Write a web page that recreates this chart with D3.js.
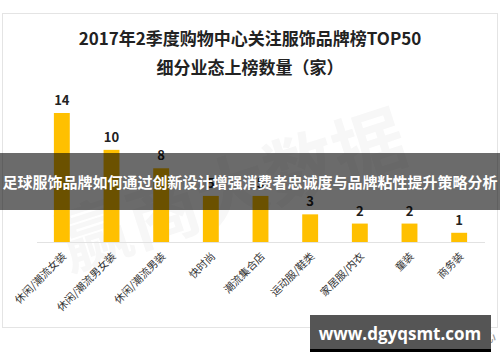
<!DOCTYPE html>
<html>
<head>
<meta charset="utf-8">
<script src="https://cdn.jsdelivr.net/npm/d3@7"></script>
<style>
body { margin:0; background:#fff; }
svg { display:block; font-family:"Noto Sans CJK SC","Noto Sans",sans-serif; }
</style>
</head>
<body>
<script>
var width = 500, height = 362

var categories = ["休闲/潮流女装","休闲/潮流男女装","休闲/潮流男装","快时尚","潮流集合店","运动服/鞋类","家居服/内衣","童装","商务装"]
var counts = [14, 10, 8, 5, 5, 3, 2, 2, 1]
var titleLines = ["2017年2季度购物中心关注服饰品牌榜TOP50", "细分业态上榜数量（家）"]
var bannerText = "足球服饰品牌如何通过创新设计增强消费者忠诚度与品牌粘性提升策略分析"
var siteText = "www.dgyqsmt.com"
var sourceText = "数据来源：赢商大数据中心"

var svg = d3.select("body").append("svg")
	.attr("width", width)
	.attr("height", height)

// panel border
svg.append("rect")
	.attr("x", 2.5).attr("y", 13.5)
	.attr("width", 495).attr("height", 314)
	.style("fill", "#fff")
	.style("stroke", "#e4e4e4")

// faint background watermark
svg.append("text")
	.attr("transform", "translate(240,215) rotate(-18)")
	.attr("text-anchor", "middle")
	.style("font-size", "72px")
	.style("font-weight", "bold")
	.style("fill", "#f7f7f7")
	.text("赢商大数据")

svg.selectAll(".title").data(titleLines).enter().append("text")
	.attr("class", "title")
	.attr("x", 250)
	.attr("y", function(d, i) { return 45 + i * 29 })
	.attr("text-anchor", "middle")
	.style("font-size", "17px")
	.style("font-weight", "bold")
	.style("fill", "#222")
	.text(function(d) { return d })

var x = d3.scaleBand().domain(categories).range([37, 484]).paddingInner(0.68).paddingOuter(0.34)
var y = d3.scaleLinear().domain([0, 14]).range([242, 113])

svg.append("line")
	.attr("x1", 37).attr("x2", 485)
	.attr("y1", y(0) + 0.5).attr("y2", y(0) + 0.5)
	.style("stroke", "#e2e2e2")

svg.selectAll(".bar").data(counts).enter().append("rect")
	.attr("class", "bar")
	.attr("x", function(d, i) { return x(categories[i]) })
	.attr("width", x.bandwidth())
	.attr("y", function(d) { return y(d) })
	.attr("height", function(d) { return y(0) - y(d) })
	.style("fill", "#ffc000")

svg.selectAll(".val").data(counts).enter().append("text")
	.attr("class", "val")
	.attr("x", function(d, i) { return x(categories[i]) + x.bandwidth() / 2 })
	.attr("y", function(d) { return y(d) - 8 })
	.attr("text-anchor", "middle")
	.style("font-size", "13px")
	.style("font-weight", "bold")
	.style("fill", "#222")
	.text(function(d) { return d })

svg.selectAll(".cat").data(categories).enter().append("text")
	.attr("class", "cat")
	.attr("transform", function(d) { return "translate(" + (x(d) + x.bandwidth() / 2 + 5) + ",257) rotate(-45)" })
	.attr("text-anchor", "end")
	.style("font-size", "10.5px")
	.style("fill", "#333")
	.text(function(d) { return d })

// overlay banner
svg.append("rect")
	.attr("x", 0).attr("y", 153)
	.attr("width", width).attr("height", 57)
	.style("fill", "#000")
	.style("opacity", 0.58)
svg.append("text")
	.attr("x", 250).attr("y", 188)
	.attr("text-anchor", "middle")
	.style("font-size", "15px")
	.style("font-weight", "bold")
	.style("fill", "#fff")
	.text(bannerText)

svg.append("text")
	.attr("x", 496).attr("y", 341)
	.attr("text-anchor", "end")
	.style("font-size", "14px")
	.style("fill", "#999")
	.text(sourceText)

svg.append("rect")
	.attr("x", 310).attr("y", 315)
	.attr("width", 181).attr("height", 37)
	.style("fill", "#555")
svg.append("rect")
	.attr("x", 310).attr("y", 349)
	.attr("width", 181).attr("height", 3)
	.style("fill", "#000")
svg.append("text")
	.attr("x", 400).attr("y", 340)
	.attr("text-anchor", "middle")
	.style("font-size", "17px")
	.style("font-weight", "bold")
	.style("font-family", "'Open Sans',sans-serif")
	.style("fill", "#fff")
	.text(siteText)
</script>
</body>
</html>
